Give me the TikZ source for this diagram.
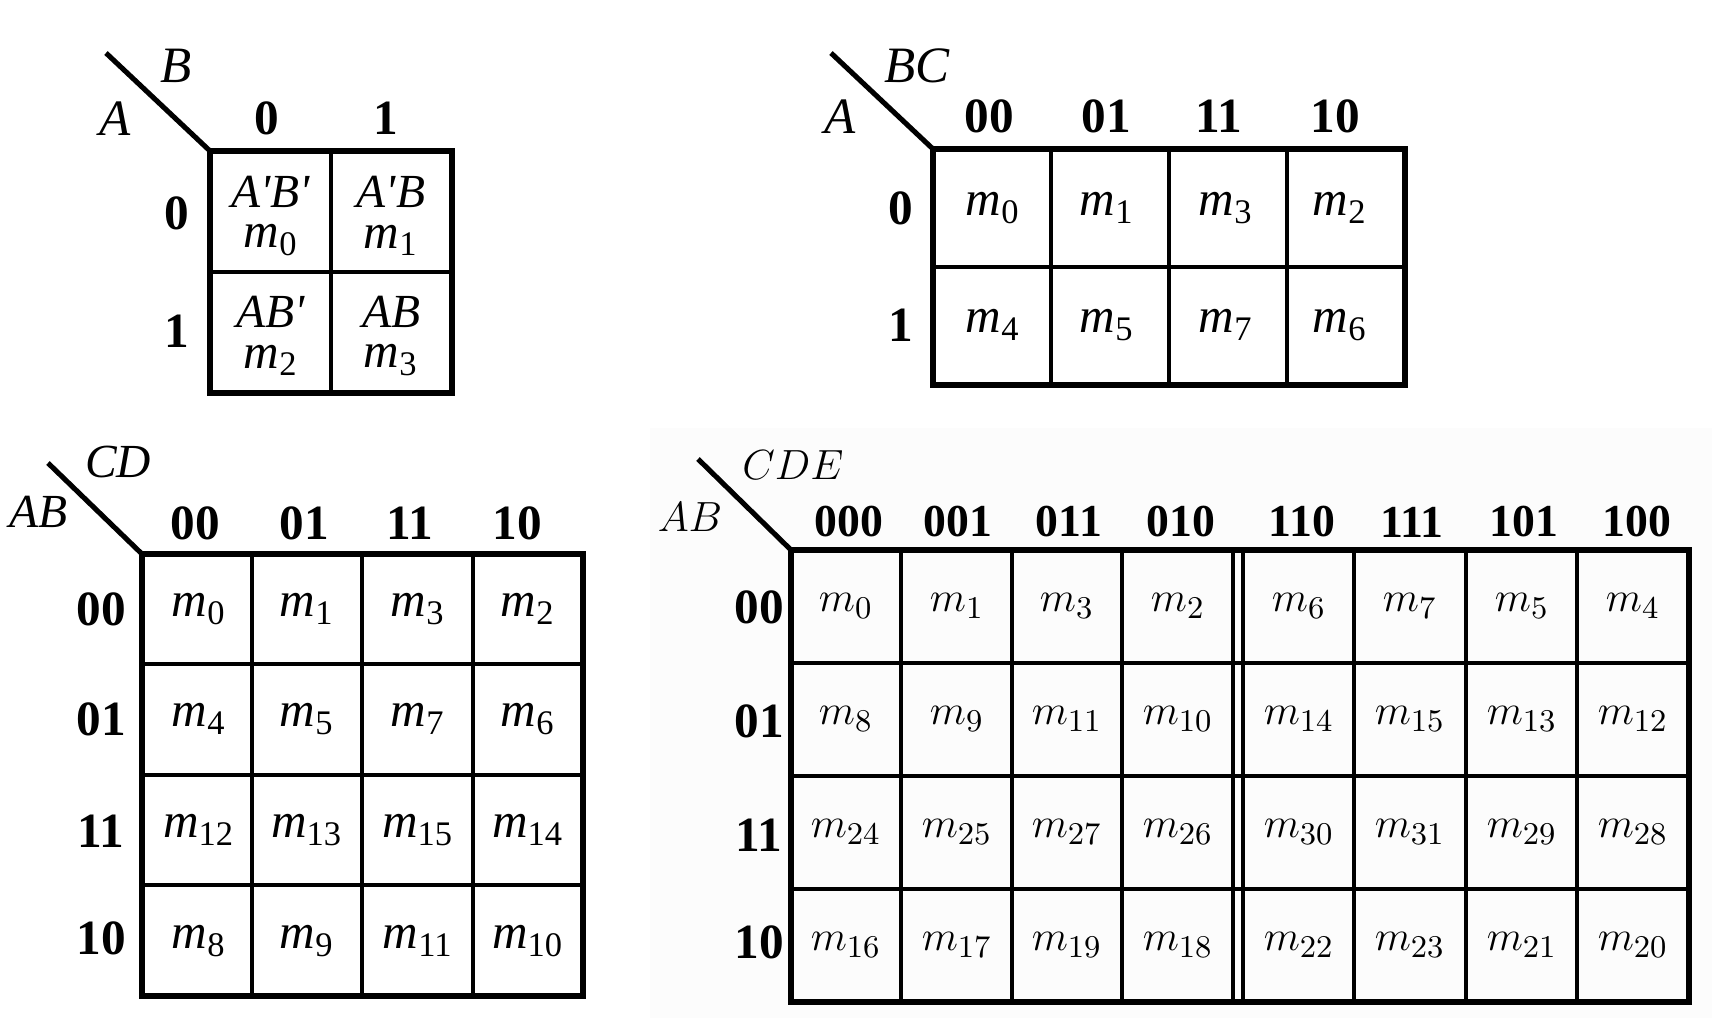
\documentclass[tikz,border=0pt]{standalone}
\usepackage{fontspec}
\setmainfont{Liberation Serif}
\usetikzlibrary{positioning}
\newcommand{\mt}[1]{\textit{m}\textsubscript{#1}}
\newcommand{\pr}{\textquotesingle}
\tikzset{
 frame/.style
  = {line width=1.45pt},
 rule/.style
  = {line width=1.15pt},
 hd/.style
  = {inner sep=0pt, font=\fontsize{14}{15}\selectfont\bfseries},
 fhd/.style
  = {inner sep=0pt, font=\fontsize{13}{15}\selectfont\bfseries},
 var/.style
  = {inner sep=0pt, font=\fontsize{14.5}{15}\selectfont\itshape},
 cell/.style
  = {inner sep=0pt, align=center, font=\fontsize{14}{11.5}\selectfont},
 cellcm/.style
  = {inner sep=0pt, font=\fontsize{13}{15}\selectfont},
}

\begin{document}
\begin{tikzpicture}[x=0.01cm, y=-0.01cm]

\useasboundingbox (0,0) rectangle (1712,1018);
\fill[black!1.2] (650,428) rectangle (1712,1018);

% Two-variable map
\draw[rule] (331,151) -- (331,393);
\draw[rule] (210,272) -- (452,272);
\draw[frame] (210,151) rectangle (452,393);
\draw[frame] (106,53) -- (210,151);
\node[var] (tA) at (115,119) {A};
\node[var] (tB) at (176,66) {B};
\node[hd] (tc0) at (267,118) {0};
\node[hd] (tc1) at (386,118) {1};
\node[hd] (tr0) at (177,213) {0};
\node[hd] (tr1) at (177,331) {1};
\node[cell] (t0) at (271,216) {{\fontsize{13.5}{11.5}\selectfont\textit{A\pr B\pr}}\\\mt{0}};
\node[cell] (t1) at (391,216) {{\fontsize{13.5}{11.5}\selectfont\textit{A\pr B}}\\\mt{1}};
\node[cell] (t2) at (271,336) {{\fontsize{13.5}{11.5}\selectfont\textit{AB\pr}}\\\mt{2}};
\node[cell] (t3) at (391,336) {{\fontsize{13.5}{11.5}\selectfont\textit{AB}}\\\mt{3}};

% Three-variable map
\foreach \x in {1051,1169,1287}
  \draw[rule] (\x,149) -- (\x,385);
\draw[rule] (933,267) -- (1405,267);
\draw[frame] (933,149) rectangle (1405,385);
\draw[frame] (831,53) -- (933,149);
\node[var] (hA) at (840,117) {A};
\node[var] (hBC) at (917,66) {BC};
\foreach \lab/\x [count=\i] in {00/989,01/1106,11/1219,10/1335}
  \node[hd] (hc\i) at (\x,116) {\lab};
\node[hd] (hr0) at (901,208) {0};
\node[hd] (hr1) at (901,325) {1};
\foreach \r/\y in {0/208,1/325}
  \foreach \c/\x in {0/993,1/1107,3/1226,2/1340} {
    \pgfmathtruncatemacro\m{4*\r+\c}
    \node[cell] (h\m) at (\x,\y) {\mt{\m}};
  }

% Four-variable map
\foreach \x in {252,362,473}
  \draw[rule] (\x,554) -- (\x,996);
\foreach \y in {664,775,885}
  \draw[rule] (142,\y) -- (583,\y);
\draw[frame] (142,554) rectangle (583,996);
\draw[frame] (48,463) -- (142,554);
\node[var, font=\fontsize{13.5}{15}\selectfont\itshape] (qAB) at (38,512) {AB};
\node[var, font=\fontsize{13.5}{15}\selectfont\itshape] (qCD) at (118,462) {CD};
\foreach \lab/\x [count=\i] in {00/195,01/304,11/410,10/517}
  \node[hd] (qc\i) at (\x,523) {\lab};
\foreach \lab/\y [count=\i] in {00/609,01/719,11/831,10/938}
  \node[hd] (qr\i) at (101,\y) {\lab};
\foreach \r/\y in {0/609,1/719,3/830,2/941}
  \foreach \c/\x in {0/199,1/307,3/418,2/528} {
    \pgfmathtruncatemacro\m{4*\r+\c}
    \node[cell] (q\m) at (\x,\y) {\mt{\m}};
  }

% Five-variable map
\foreach \x in {901,1012,1122,1233,1243,1354,1466,1577}
  \draw[rule] (\x,550) -- (\x,1002);
\foreach \y in {663,776,889}
  \draw[rule] (791,\y) -- (1689,\y);
\draw[frame] (791,550) rectangle (1689,1002);
\draw[frame] (698,459) -- (791,550);
\node[var, font=\fontsize{13}{15}\selectfont] (fAB) at (690,517) {$AB$};
\node[var, font=\fontsize{13}{15}\selectfont] (fCDE) at (793,465) {$CDE$};
\foreach \lab/\x [count=\i] in {000/849,001/958,011/1069,010/1181,110/1302,111/1412,101/1524,100/1637}
  \node[fhd] (fc\i) at (\x,522) {\lab};
\foreach \lab/\y [count=\i] in {00/607,01/721,11/835,10/942}
  \node[hd] (fr\i) at (759,\y) {\lab};
\foreach \r/\y in {0/606,1/719,3/832,2/945}
  \foreach \c/\x in {0/846,1/957,3/1067,2/1178,6/1299,7/1410,5/1522,4/1633} {
    \pgfmathtruncatemacro\m{8*\r+\c}
    \node[cellcm] (f\m) at (\x,\y) {$m_{\m}$};
  }

\end{tikzpicture}
\end{document}
